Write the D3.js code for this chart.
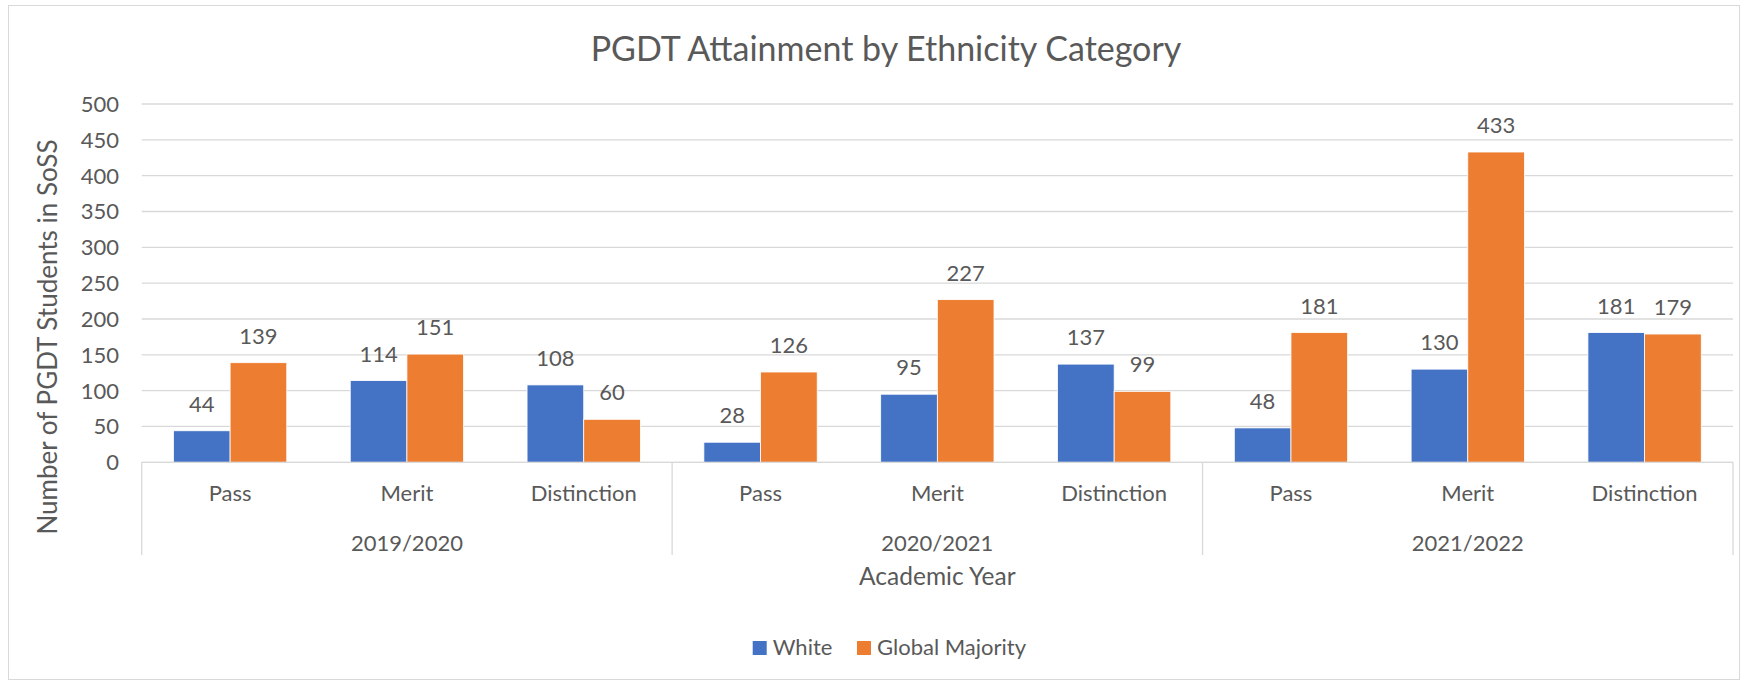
<!DOCTYPE html>
<html>
<head>
<meta charset="utf-8">
<script src="https://cdn.jsdelivr.net/npm/d3@7"></script>
<style>
  body { margin: 0; background: #fff; }
  text { font-family: Lato, "Open Sans", sans-serif; fill: #595959; }
</style>
</head>
<body>
<div id="chart"></div>
<script>
// data
var years = ["2019/2020", "2020/2021", "2021/2022"];
var grades = ["Pass", "Merit", "Distinction"];
var seriesNames = ["White", "Global Majority"];
var whiteValues = [44, 114, 108, 28, 95, 137, 48, 130, 181];
var globalMajorityValues = [139, 151, 60, 126, 227, 99, 181, 433, 179];
var colors = ["#4472C4", "#ED7D31"];

var width = 1749, height = 685;
// note: "top" is taken by window.top, so plot edges get their own names
var plotLeft = 141.7, plotRight = 1733, plotTop = 104, plotBottom = 462.3;

var svg = d3.select("#chart").append("svg")
    .attr("width", width)
    .attr("height", height);

// chart border
svg.append("rect")
    .attr("x", 8.5).attr("y", 5.5)
    .attr("width", 1731).attr("height", 674)
    .attr("fill", "#fff")
    .attr("stroke", "#D9D9D9");

// build rows: one per year/grade
var rows = [];
years.forEach(function(yr, i) {
    grades.forEach(function(g, j) {
        var k = i * grades.length + j;
        rows.push({ key: yr + "|" + g, year: yr, grade: g, values: [whiteValues[k], globalMajorityValues[k]] });
    });
});

var y = d3.scaleLinear().domain([0, 500]).range([plotBottom, plotTop]);
var x0 = d3.scaleBand().domain(rows.map(function(d) { return d.key; })).range([plotLeft, plotRight]);
var bw = x0.bandwidth();
var x1 = d3.scaleBand().domain([0, 1]).range([bw * 0.1795, bw * 0.8205]);
var xYear = d3.scaleBand().domain(years).range([plotLeft, plotRight]);

// gridlines
svg.append("g")
    .selectAll("line")
    .data(y.ticks(10))
    .enter()
    .append("line")
    .attr("x1", plotLeft).attr("x2", plotRight)
    .attr("y1", function(d) { return y(d); })
    .attr("y2", function(d) { return y(d); })
    .attr("stroke", "#D9D9D9")
    .attr("stroke-width", 1.3);

// y tick labels
svg.append("g")
    .selectAll("text")
    .data(y.ticks(10))
    .enter()
    .append("text")
    .attr("x", 119)
    .attr("y", function(d) { return y(d) + 8; })
    .attr("text-anchor", "end")
    .style("font-size", "22px")
    .text(function(d) { return d; });

// bars
var groups = svg.append("g")
    .selectAll("g")
    .data(rows)
    .enter()
    .append("g")
    .attr("transform", function(d) { return "translate(" + x0(d.key) + ",0)"; });

groups.selectAll("rect")
    .data(function(d) { return d.values; })
    .enter()
    .append("rect")
    .attr("x", function(d, i) { return x1(i); })
    .attr("y", function(d) { return y(d); })
    .attr("width", x1.bandwidth())
    .attr("height", function(d) { return y(0) - y(d); })
    .attr("fill", function(d, i) { return colors[i]; })
    .attr("stroke", "#fff")
    .attr("stroke-width", 0.8);

groups.selectAll("text.lbl")
    .data(function(d) { return d.values; })
    .enter()
    .append("text")
    .attr("class", "lbl")
    .attr("x", function(d, i) { return x1(i) + x1.bandwidth() / 2; })
    .attr("y", function(d) { return y(d) - 19; })
    .attr("text-anchor", "middle")
    .style("font-size", "22px")
    .text(function(d) { return d; });

// x axis line
svg.append("line")
    .attr("x1", plotLeft).attr("x2", plotRight)
    .attr("y1", plotBottom).attr("y2", plotBottom)
    .attr("stroke", "#D9D9D9")
    .attr("stroke-width", 1.3);

// year dividers
var edges = years.map(function(yr) { return xYear(yr); }).concat([plotRight]);
svg.append("g")
    .selectAll("line")
    .data(edges)
    .enter()
    .append("line")
    .attr("x1", function(d) { return d; })
    .attr("x2", function(d) { return d; })
    .attr("y1", plotBottom).attr("y2", 555)
    .attr("stroke", "#D9D9D9")
    .attr("stroke-width", 1.3);

// grade labels
svg.append("g")
    .selectAll("text")
    .data(rows)
    .enter()
    .append("text")
    .attr("x", function(d) { return x0(d.key) + bw / 2; })
    .attr("y", 501)
    .attr("text-anchor", "middle")
    .style("font-size", "22px")
    .text(function(d) { return d.grade; });

// year labels
svg.append("g")
    .selectAll("text")
    .data(years)
    .enter()
    .append("text")
    .attr("x", function(d) { return xYear(d) + xYear.bandwidth() / 2; })
    .attr("y", 551)
    .attr("text-anchor", "middle")
    .style("font-size", "22px")
    .text(function(d) { return d; });

// title
svg.append("text")
    .attr("x", 886)
    .attr("y", 61)
    .attr("text-anchor", "middle")
    .style("font-size", "34px")
    .text("PGDT Attainment by Ethnicity Category");

// axis titles
svg.append("text")
    .attr("x", (plotLeft + plotRight) / 2)
    .attr("y", 585)
    .attr("text-anchor", "middle")
    .style("font-size", "24.5px")
    .text("Academic Year");

svg.append("text")
    .attr("transform", "translate(57," + 337 + ") rotate(-90)")
    .attr("text-anchor", "middle")
    .style("font-size", "26px")
    .text("Number of PGDT Students in SoSS");

// legend
var legendX = [752.7, 857];
var legend = svg.append("g")
    .selectAll("g")
    .data(seriesNames)
    .enter()
    .append("g")
    .attr("transform", function(d, i) { return "translate(" + legendX[i] + ",641)"; });

legend.append("rect")
    .attr("width", 14).attr("height", 14)
    .attr("fill", function(d, i) { return colors[i]; });

legend.append("text")
    .attr("x", 20)
    .attr("y", 14)
    .style("font-size", "22px")
    .text(function(d) { return d; });
</script>
</body>
</html>
